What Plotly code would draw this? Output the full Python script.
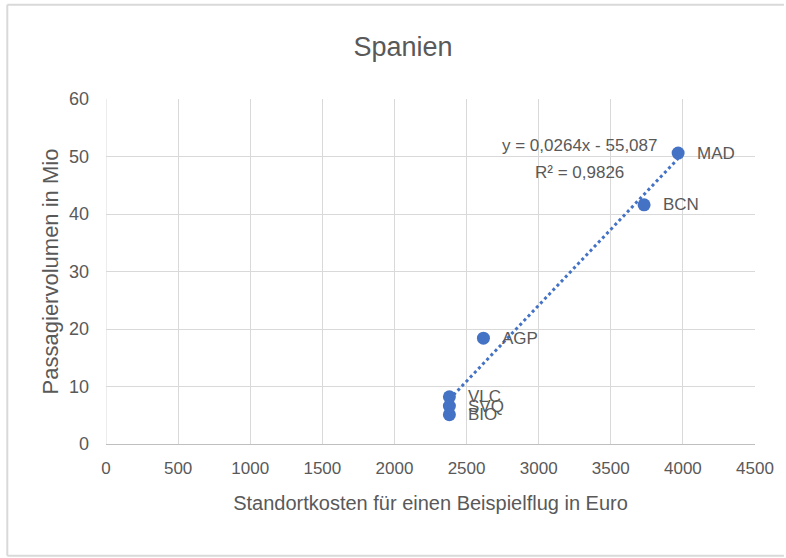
import plotly.graph_objects as go

# Data
airports = ["MAD", "BCN", "AGP", "VLC", "SVQ", "BIO"]
costs = [3967, 3731, 2617, 2381, 2381, 2381]          # Standortkosten (Euro)
passengers = [50.6, 41.6, 18.4, 8.2, 6.6, 5.1]         # Passagiervolumen (Mio)
slope = 0.0264
intercept = -55.087
r2 = 0.9826
x_ticks = [0, 500, 1000, 1500, 2000, 2500, 3000, 3500, 4000, 4500]
y_ticks = [0, 10, 20, 30, 40, 50, 60]

FONT = "Liberation Sans, Arial, sans-serif"
GREY = "#595959"
BLUE = "#4472C4"

x_min, x_max = min(costs), max(costs)
trend_x = [x_min, x_max]
trend_y = [slope * v + intercept for v in trend_x]

fig = go.Figure()
fig.add_trace(go.Scatter(x=trend_x, y=trend_y, mode="lines",
                         line=dict(color=BLUE, width=3, dash="dot"),
                         hoverinfo="skip", showlegend=False))
fig.add_trace(go.Scatter(x=costs, y=passengers, mode="markers",
                         marker=dict(color=BLUE, size=13),
                         showlegend=False))

for name, xv, yv in zip(airports, costs, passengers):
    fig.add_annotation(x=xv, y=yv, text=name, showarrow=False,
                       xanchor="left", yanchor="middle", xshift=17,
                       font=dict(family=FONT, size=17, color=GREY))

eq_text = "y = " + f"{slope:.4f}".replace(".", ",") + "x - " + f"{-intercept:.3f}".replace(".", ",")
r_text = "R² = " + f"{r2:.4f}".replace(".", ",")
fig.add_annotation(x=3285, y=51.9, text=eq_text, showarrow=False,
                   xanchor="center", yanchor="middle",
                   font=dict(family=FONT, size=17, color=GREY))
fig.add_annotation(x=3285, y=47.2, text=r_text, showarrow=False,
                   xanchor="center", yanchor="middle",
                   font=dict(family=FONT, size=17, color=GREY))

# chart border (left/top/bottom visible; right side cropped in the reference)
L, R, T, B = 106, 757, 98.5, 444
W, H = R - L, B - T
bx0, bx1 = (7 - L) / W, (786 - L) / W
by0, by1 = (B - 556) / H, (B - 4) / H
for x0, y0, x1, y1 in [(bx0, by0, bx0, by1), (bx0, by1, bx1, by1), (bx0, by0, bx1, by0)]:
    fig.add_shape(type="line", xref="paper", yref="paper",
                  x0=x0, y0=y0, x1=x1, y1=y1,
                  line=dict(color="#d9d9d9", width=2), layer="below")

fig.update_layout(
    width=786, height=558,
    margin=dict(l=L, r=786 - R, t=T, b=558 - B),
    paper_bgcolor="white", plot_bgcolor="white",
    title=dict(text="Spanien", x=403 / 786, xanchor="center",
               y=1 - 47 / 558, yanchor="middle",
               font=dict(family=FONT, size=27, color=GREY)),
    font=dict(family=FONT, color=GREY),
    xaxis=dict(range=[0, 4500], tickvals=x_ticks,
               ticktext=[str(v) for v in x_ticks],
               showgrid=True, gridcolor="#d9d9d9", gridwidth=1,
               zeroline=False, showline=True, linecolor="#bfbfbf", linewidth=1,
               ticks="", tickfont=dict(family=FONT, size=17, color=GREY),
               ticklabelstandoff=9,
               title=dict(text="Standortkosten für einen Beispielflug in Euro",
                          font=dict(family=FONT, size=20, color=GREY), standoff=18)),
    yaxis=dict(range=[0, 60], tickvals=y_ticks,
               showgrid=True, gridcolor="#d9d9d9", gridwidth=1,
               zeroline=False, showline=False,
               ticks="", tickfont=dict(family=FONT, size=18, color=GREY),
               ticklabelstandoff=16,
               title=dict(text="Passagiervolumen in Mio",
                          font=dict(family=FONT, size=22, color=GREY), standoff=4)),
)
fig.add_shape(type="line", xref="x", yref="paper", x0=0, x1=0, y0=0, y1=1,
              line=dict(color="#d9d9d9", width=1), layer="below")

fig.write_html("out.html", config={"displayModeBar": False},
               post_script="document.body.style.margin='0';"
                           "document.body.style.overflow='hidden';"
                           "document.documentElement.style.overflow='hidden';")
